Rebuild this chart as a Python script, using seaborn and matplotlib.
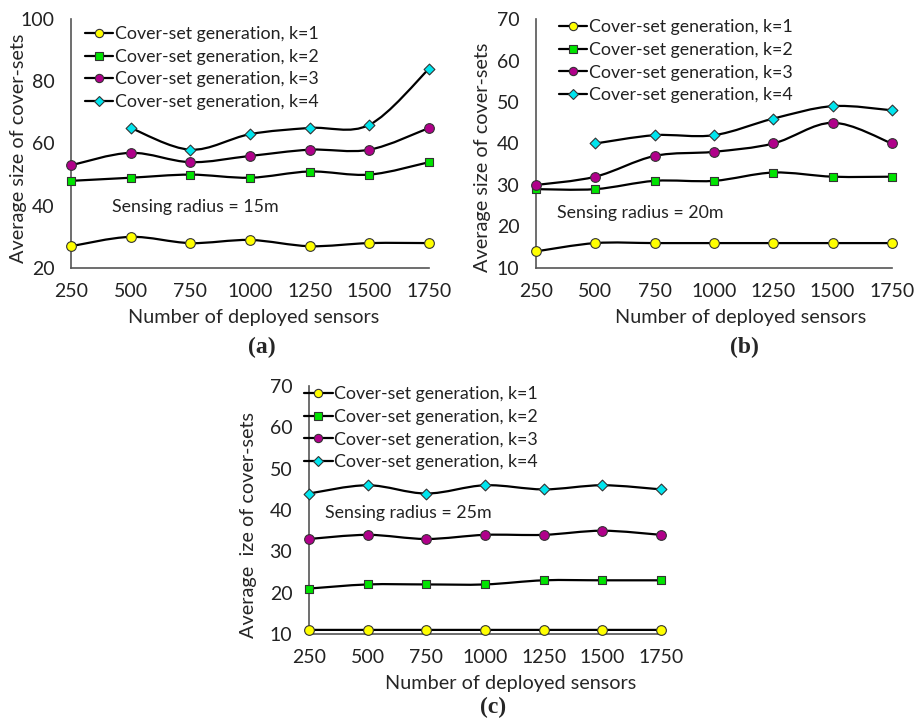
import numpy as np
import pandas as pd
import matplotlib
matplotlib.use("Agg")
import matplotlib.pyplot as plt
from matplotlib.path import Path
from matplotlib.patches import PathPatch
from matplotlib.lines import Line2D
import seaborn as sns

# ── Data ──────────────────────────────────────────────────────
sensors = [250, 500, 750, 1000, 1250, 1500, 1750]
k_labels = ["Cover-set generation, k=1", "Cover-set generation, k=2",
            "Cover-set generation, k=3", "Cover-set generation, k=4"]

r15_k1 = [27, 30, 28, 29, 27, 28, 28]
r15_k2 = [48, 49, 50, 49, 51, 50, 54]
r15_k3 = [53, 57, 54, 56, 58, 58, 65]
r15_k4 = [np.nan, 65, 58, 63, 65, 66, 84]

r20_k1 = [14, 16, 16, 16, 16, 16, 16]
r20_k2 = [29, 29, 31, 31, 33, 32, 32]
r20_k3 = [30, 32, 37, 38, 40, 45, 40]
r20_k4 = [np.nan, 40, 42, 42, 46, 49, 48]

r25_k1 = [11, 11, 11, 11, 11, 11, 11]
r25_k2 = [21, 22, 22, 22, 23, 23, 23]
r25_k3 = [33, 34, 33, 34, 34, 35, 34]
r25_k4 = [44, 46, 44, 46, 45, 46, 45]

# ── Style ─────────────────────────────────────────────────────
sns.set_theme(style="white")
plt.rcParams.update({
    "font.family": ["Lato", "DejaVu Sans"],
    "axes.edgecolor": "#555555",
    "xtick.color": "#555555",
    "ytick.color": "#555555",
    "xtick.labelcolor": "#222222",
    "ytick.labelcolor": "#222222",
})

markers = ["o", "s", "o", "D"]
colors = ["#FFFF00", "#00E400", "#B0008A", "#00E5EE"]
msizes = [7, 6, 7, 5.5]


def smooth_path(xs, ys):
    # Excel-like smoothed line: cubic Bezier segments through the points
    pts = [(x, y) for x, y in zip(xs, ys) if not np.isnan(y)]
    p = np.array(pts, dtype=float)
    verts = [p[0]]
    codes = [Path.MOVETO]
    n = len(p)
    for i in range(n - 1):
        p0 = p[i - 1] if i > 0 else p[i]
        p1, p2 = p[i], p[i + 1]
        p3 = p[i + 2] if i + 2 < n else p[i + 1]
        verts += [p1 + (p2 - p0) / 6, p2 - (p3 - p1) / 6, p2]
        codes += [Path.CURVE4] * 3
    return Path(verts, codes)


def panel(ax, series, ylim, yticks, ylabel, radius_txt, txt_pos,
          leg_anchor, ylab_pos, xlab_pos):
    rows = []
    for lab, vals in zip(k_labels, series):
        for x, v in zip(sensors, vals):
            rows.append({"sensors": x, "size": v, "k": lab})
    df = pd.DataFrame(rows).dropna()

    for lab, vals in zip(k_labels, series):
        ax.add_patch(PathPatch(smooth_path(sensors, vals), facecolor="none",
                               edgecolor="black", lw=1.6, zorder=2, clip_on=False))
    for lab, m, c, s in zip(k_labels, markers, colors, msizes):
        sub = df[df["k"] == lab]
        sns.scatterplot(data=sub, x="sensors", y="size", marker=m, color=c,
                        s=s ** 2, edgecolor="#333333", linewidth=0.8,
                        zorder=3, clip_on=False, legend=False, ax=ax)

    ax.set_xlim(250, 1750)
    ax.set_ylim(*ylim)
    ax.set_xticks(sensors)
    ax.set_yticks(yticks)
    ax.tick_params(direction="in", length=5, width=1, labelsize=14)
    ax.tick_params(axis="x", pad=11)
    ax.tick_params(axis="y", pad=12)
    sns.despine(ax=ax)
    for sp in ["left", "bottom"]:
        ax.spines[sp].set_linewidth(1.2)

    ax.set_ylabel(ylabel, fontsize=14.3, va="center")
    ax.yaxis.set_label_coords(*ylab_pos)
    ax.set_xlabel("Number of deployed sensors", fontsize=14.3, va="center")
    ax.xaxis.set_label_coords(*xlab_pos)

    ax.text(txt_pos[0], txt_pos[1], radius_txt, transform=ax.transAxes,
            fontsize=12.8, va="center", ha="left", color="#222222")

    handles = [Line2D([], [], color="black", lw=1.6, marker=m, markersize=s * 0.85,
                      markerfacecolor=c, markeredgecolor="#333333",
                      markeredgewidth=0.8)
               for m, c, s in zip(markers, colors, msizes)]
    leg = ax.legend(handles, k_labels, loc="upper left", bbox_to_anchor=leg_anchor,
                    frameon=False, fontsize=12.8, borderpad=0, borderaxespad=0,
                    handlelength=1.6, handletextpad=0.1, labelspacing=0.38)
    for t in leg.get_texts():
        t.set_color("#222222")


fig = plt.figure(figsize=(9.14, 7.2), dpi=100)
ax_a = fig.add_axes([0.0777, 0.6278, 0.3917, 0.3458])
ax_b = fig.add_axes([0.5864, 0.6278, 0.3895, 0.3458])
ax_c = fig.add_axes([0.3381, 0.1194, 0.3851, 0.3444])

panel(ax_a, [r15_k1, r15_k2, r15_k3, r15_k4], (20, 100), [20, 40, 60, 80, 100],
      "Average size of cover-sets", "Sensing radius = 15m", (0.115, 0.245),
      (0.039, 0.972), (-0.148, 0.482), (0.511, -0.197))
panel(ax_b, [r20_k1, r20_k2, r20_k3, r20_k4], (10, 70), [10, 20, 30, 40, 50, 60, 70],
      "Average size of cover-sets", "Sensing radius = 20m", (0.059, 0.22),
      (0.064, 1.0), (-0.151, 0.446), (0.575, -0.197))
panel(ax_c, [r25_k1, r25_k2, r25_k3, r25_k4], (10, 70), [10, 20, 30, 40, 50, 60, 70],
      "Average  ize of cover-sets", "Sensing radius = 25m", (0.045, 0.49),
      (-0.014, 1.0), (-0.173, 0.44), (0.574, -0.198))

for lab, x, y in [("(a)", 262, 347), ("(b)", 744, 347), ("(c)", 493, 707)]:
    fig.text(x / 914, 1 - y / 720, lab, ha="center", va="center",
             fontsize=17, fontweight="bold", family="Liberation Serif")

fig.savefig("out.png", dpi=100)
